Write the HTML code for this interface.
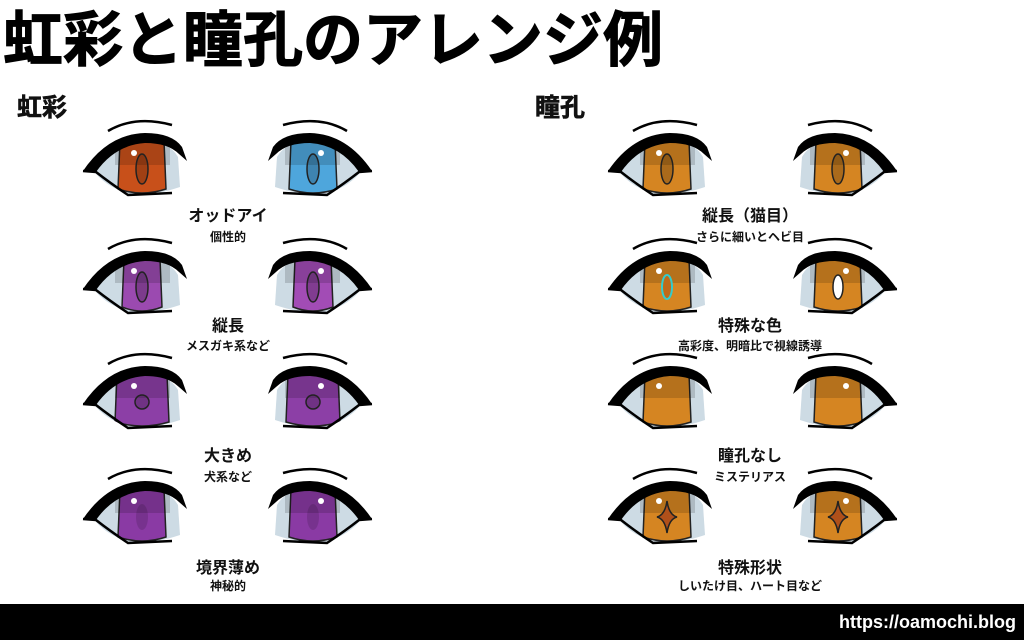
<!DOCTYPE html>
<html><head><meta charset="utf-8"><style>
body{margin:0;width:1024px;height:640px;background:#fff;overflow:hidden;position:relative;font-family:"Liberation Sans","Noto Sans CJK JP",sans-serif;}
.t{position:absolute;font-weight:bold;color:#111;white-space:nowrap}
.c{text-align:center;width:300px}
</style></head><body>
<div class="t" style="left:3px;top:6px;font-size:60px;line-height:70px;color:#000;-webkit-text-stroke:1px #000">虹彩と瞳孔のアレンジ例</div>
<div class="t" style="left:17px;top:92px;font-size:25px;line-height:32px;-webkit-text-stroke:0.6px #111">虹彩</div>
<div class="t" style="left:535px;top:92px;font-size:25px;line-height:32px;-webkit-text-stroke:0.6px #111">瞳孔</div>
<svg id="s" width="1024" height="640" style="position:absolute;left:0;top:0"></svg>
<div class="t c" style="left:78px;top:202px;font-size:16px">オッドアイ</div>
<div class="t c" style="left:78px;top:228px;font-size:12px">個性的</div>
<div class="t c" style="left:78px;top:312px;font-size:16px">縦長</div>
<div class="t c" style="left:78px;top:337px;font-size:12px">メスガキ系など</div>
<div class="t c" style="left:78px;top:442px;font-size:16px">大きめ</div>
<div class="t c" style="left:78px;top:468px;font-size:12px">犬系など</div>
<div class="t c" style="left:78px;top:554px;font-size:16px">境界薄め</div>
<div class="t c" style="left:78px;top:577px;font-size:12px">神秘的</div>
<div class="t c" style="left:600px;top:202px;font-size:16px">縦長（猫目）</div>
<div class="t c" style="left:600px;top:228px;font-size:12px">さらに細いとヘビ目</div>
<div class="t c" style="left:600px;top:312px;font-size:16px">特殊な色</div>
<div class="t c" style="left:600px;top:337px;font-size:12px">高彩度、明暗比で視線誘導</div>
<div class="t c" style="left:600px;top:442px;font-size:16px">瞳孔なし</div>
<div class="t c" style="left:600px;top:468px;font-size:12px">ミステリアス</div>
<div class="t c" style="left:600px;top:554px;font-size:16px">特殊形状</div>
<div class="t c" style="left:600px;top:577px;font-size:12px">しいたけ目、ハート目など</div>
<div style="position:absolute;left:0;top:604px;width:1024px;height:36px;background:#000"></div>
<div class="t" style="right:8px;top:610px;color:#fff;font-size:18px;line-height:24px">https://oamochi.blog</div>
<script>
var s=document.getElementById('s'),h='<defs><clipPath id="cl"><path d="M-48,2 Q-20,-26 10,-26 Q30,-24 38,-10 L40,20 Q10,30 -10,27 Q-35,20 -48,2Z"/></clipPath></defs>';
function eye(x,y,flip,col,pup,ry,rx){
 var g='<g transform="translate('+x+','+y+') scale('+(flip?-1:1)+',1)">';
 g+='<path d="M-48,2 Q-20,-26 10,-26 Q30,-24 38,-10 L40,20 Q10,30 -10,27 Q-35,20 -48,2Z" fill="#cddbe4"/>';
 g+='<g clip-path="url(#cl)"><path d="M'+(2-(rx||22))+',-26 L'+(2+(rx||22))+',-26 L'+(4+(rx||22))+',22 Q2,30 '+(-(rx||22))+',22 Z" fill="'+col+'" stroke="#222" stroke-width="1.5"/>';
 g+='<rect x="-25" y="-30" width="55" height="28" fill="#000" opacity="0.15"/>'+pup+'</g>';
 g+='<path d="M-57,4 Q-32,-33 5,-34 Q32,-34 42,-20 L47,-6 L39,-13 Q28,-24 5,-24 Q-25,-22 -44,5 Z" fill="#000"/>';
 g+='<path d="M-57,4 L-44,5 Q-30,16 -12,28 L32,26" fill="none" stroke="#000" stroke-width="2.5"/>';
 g+='<path d="M-32,-36 Q-5,-52 32,-42" fill="none" stroke="#000" stroke-width="2.5"/>';
 g+='<circle cx="-6" cy="-14" r="3" fill="#fff"/></g>';
 h+=g;}
var slit='<ellipse cx="2" cy="2" rx="6" ry="15" fill="#0003" stroke="#222" stroke-width="1.5"/>';
var rnd='<circle cx="2" cy="2" r="7" fill="#0003" stroke="#222" stroke-width="1.5"/>';
var star='<path d="M2,-14 Q4,0 12,2 Q4,4 2,18 Q0,4 -8,2 Q0,0 2,-14Z" fill="#b0501a" stroke="#222" stroke-width="1.5"/>';
var L=[140,315],R=[665,840];
eye(L[0],167,0,'#c8501a',slit);eye(L[1],167,1,'#4ea6dc',slit);
eye(L[0],285,0,'#9b4ab0',slit,27,18);eye(L[1],285,1,'#a24cb5',slit,27,18);
eye(L[0],400,0,'#8c3fa6',rnd,27,25);eye(L[1],400,1,'#8c3fa6',rnd,27,25);
eye(L[0],515,0,'#8a3aa4','<ellipse cx="2" cy="2" rx="6" ry="13" fill="#0002"/>');eye(L[1],515,1,'#8a3aa4','<ellipse cx="2" cy="2" rx="6" ry="13" fill="#0002"/>');
eye(R[0],167,0,'#d58522',slit);eye(R[1],167,1,'#d58522',slit);
eye(R[0],285,0,'#d58522','<ellipse cx="2" cy="2" rx="5" ry="12" fill="#c06a18" stroke="#3cc" stroke-width="2"/>');eye(R[1],285,1,'#d58522','<ellipse cx="2" cy="2" rx="5" ry="12" fill="#fff" stroke="#222" stroke-width="1.5"/>');
eye(R[0],400,0,'#d58522','');eye(R[1],400,1,'#d58522','');
eye(R[0],515,0,'#d58522',star);eye(R[1],515,1,'#d58522',star);
s.innerHTML=h;
</script>
</body></html>
